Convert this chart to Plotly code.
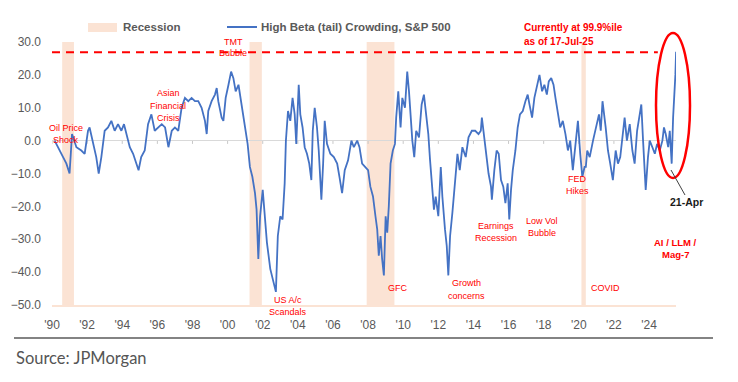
import plotly.graph_objects as go

# ---------------- data ----------------
dates = [
    1990.15, 1990.34, 1990.63, 1990.82, 1991.00, 1991.14, 1991.39, 1991.67, 1991.86, 1992.05,
    1992.14, 1992.33, 1992.52, 1992.66, 1992.81, 1993.00, 1993.19, 1993.38, 1993.57, 1993.76,
    1993.95, 1994.10, 1994.24, 1994.43, 1994.62, 1994.75, 1994.93, 1995.08, 1995.28, 1995.47,
    1995.66, 1995.85, 1996.06, 1996.25, 1996.44, 1996.63, 1996.82, 1997.00, 1997.19, 1997.38,
    1997.57, 1997.76, 1997.95, 1998.14, 1998.33, 1998.52, 1998.71, 1998.81, 1998.90, 1999.09,
    1999.28, 1999.38, 1999.47, 1999.66, 1999.76, 1999.89, 2000.05, 2000.20, 2000.33, 2000.46,
    2000.62, 2000.71, 2000.85, 2001.00, 2001.14, 2001.27, 2001.41, 2001.56, 2001.65, 2001.75,
    2001.85, 2002.00, 2002.14, 2002.24, 2002.43, 2002.62, 2002.75, 2002.86, 2003.00, 2003.13,
    2003.25, 2003.32, 2003.44, 2003.57, 2003.70, 2003.82, 2003.91, 2004.05, 2004.14, 2004.27,
    2004.39, 2004.52, 2004.65, 2004.77, 2004.85, 2004.96, 2005.09, 2005.19, 2005.34, 2005.44,
    2005.53, 2005.66, 2005.85, 2006.05, 2006.24, 2006.37, 2006.52, 2006.67, 2006.86, 2007.05,
    2007.19, 2007.38, 2007.51, 2007.66, 2007.85, 2008.00, 2008.13, 2008.28, 2008.42, 2008.52,
    2008.61, 2008.71, 2008.80, 2008.90, 2009.00, 2009.09, 2009.18, 2009.28, 2009.41, 2009.53,
    2009.60, 2009.72, 2009.85, 2009.95, 2010.10, 2010.23, 2010.33, 2010.42, 2010.52, 2010.63,
    2010.74, 2010.90, 2011.05, 2011.18, 2011.32, 2011.43, 2011.53, 2011.66, 2011.75, 2011.85,
    2012.00, 2012.14, 2012.23, 2012.38, 2012.48, 2012.57, 2012.67, 2012.80, 2012.95, 2013.09,
    2013.22, 2013.37, 2013.56, 2013.72, 2013.91, 2014.10, 2014.29, 2014.42, 2014.48, 2014.62,
    2014.75, 2014.86, 2015.00, 2015.05, 2015.19, 2015.32, 2015.44, 2015.57, 2015.70, 2015.82,
    2015.95, 2016.04, 2016.14, 2016.24, 2016.39, 2016.52, 2016.65, 2016.81, 2016.96, 2017.09,
    2017.19, 2017.34, 2017.47, 2017.61, 2017.76, 2017.91, 2018.04, 2018.18, 2018.29, 2018.43,
    2018.56, 2018.67, 2018.81, 2018.94, 2019.09, 2019.24, 2019.38, 2019.51, 2019.66, 2019.82,
    2019.95, 2020.08, 2020.20, 2020.33, 2020.40, 2020.48, 2020.62, 2020.81, 2021.00, 2021.15,
    2021.25, 2021.35, 2021.53, 2021.66, 2021.79, 2021.94, 2022.10, 2022.23, 2022.36, 2022.52,
    2022.61, 2022.74, 2022.90, 2023.05, 2023.18, 2023.32, 2023.47, 2023.56, 2023.66, 2023.81,
    2023.94, 2024.04, 2024.19, 2024.33, 2024.46, 2024.61, 2024.76, 2024.85, 2024.95, 2025.09,
    2025.18, 2025.29, 2025.37, 2025.42, 2025.47, 2025.50, 2025.54,
]
crowding = [
    0, -2, -5, -7, -10, 2, -2, -3, -4, 3,
    4, -1, -5, -10, -5, 3, 4, 6, 3, 5,
    3, 5, 2, -2, -4, -6, -9, -5, -3, 5,
    8, 3, 4, 5, 4, -2, 3, 4, 3, 10,
    13, 12, 13, 12, 12, 10, 6, 2, 9, 12,
    14, 16, 12, 7, 6, 13, 17, 21, 19, 15,
    17, 14, 10, 5, -1, -8, -11, -16, -21, -36,
    -23, -15, -24, -31, -39, -43, -46, -29, -23, -24,
    -13, 0, 9, 6, 13, 8, -1, 17, 8, 4,
    -2, -4, -7, -12, 3, 10, 4, -3, -18, -7,
    6, -1, -4, -5, -7, -11, -16, -9, -6, 0,
    -2, 0, -2, -7, -8, -9, -14, -17, -23, -27,
    -35, -29, -36, -41, -23, -28, -20, -7, -3, -1,
    7, 15, 4, 13, 10, 21, 15, 7, 0, -5,
    3, 1, 11, 14, 7, 2, -6, -14, -21, -17,
    -23, -8, -17, -27, -32, -41, -29, -22, -13, -4,
    -9, -2, -5, 1, 3, 3, 2, 3, 7, 0,
    -6, -10, -14, -18, -9, -3, -4, -12, -14, -19,
    -13, -24, -15, -9, -3, 4, 8, 9, 12, 14,
    11, 7, 13, 16, 20, 15, 17, 14, 18, 19,
    17, 13, 8, 4, 6, 2, -3, 0, -9, -1,
    6, -4, -11, -8, -8, -3, -5, 0, 4, 8,
    3, 12, 4, -3, -7, -12, -3, -7, -5, 3,
    7, 0, 5, -3, -7, 3, 8, 11, 0, -15,
    -5, 0, -2, -4, -1, -3, 0, 4, 2, -2,
    3, -7, 7, 12, 13, 20, 27,
]

recession_start = [1990.58, 2001.25, 2007.92, 2020.15]
recession_end = [1991.25, 2001.95, 2009.50, 2020.40]

tick_years = list(range(1990, 2025, 2))
tick_labels = ["'" + str(y)[2:] for y in tick_years]
y_ticks = [-50, -40, -30, -20, -10, 0, 10, 20, 30]
current_level = 26.9
dash_end = 2024.5

# ---------------- styling ----------------
BLUE = "#4472C4"
PEACH = "#FBE3D4"
RED = "#FF0000"
GREY = "#595959"
FONT = "Liberation Sans, Arial, sans-serif"

W, H = 738, 382
L, R, T, B = 52, 676, 42, 305  # plot area in pixels


def px(x):
    return (x - L) / (R - L)


def py(y):
    return (B - y) / (B - T)


fig = go.Figure()
fig.add_trace(go.Scatter(
    x=dates, y=crowding, mode="lines",
    line=dict(color=BLUE, width=1.8),
    showlegend=False, hoverinfo="skip",
))

shapes = []
for s, e in zip(recession_start, recession_end):
    shapes.append(dict(type="rect", xref="x", yref="y", x0=s, x1=e, y0=-50, y1=30,
                       fillcolor=PEACH, line=dict(width=0), layer="below"))
for t in tick_years:
    shapes.append(dict(type="line", xref="x", yref="y", x0=t, x1=t, y0=0, y1=-1.0,
                       line=dict(color="#C8C8C8", width=1), layer="below"))
# current-level dashed line
shapes.append(dict(type="line", xref="x", yref="y", x0=1990, x1=dash_end,
                   y0=current_level, y1=current_level,
                   line=dict(color=RED, width=2, dash="8px,6px")))
# ellipse around the latest move
shapes.append(dict(type="circle", xref="paper", yref="paper",
                   x0=px(656), x1=px(690), y0=py(178), y1=py(33),
                   line=dict(color=RED, width=2.5)))
# pointer to 21-Apr
shapes.append(dict(type="line", xref="paper", yref="paper",
                   x0=px(671), y0=py(170), x1=px(685), y1=py(195),
                   line=dict(color="#404040", width=1)))
# legend keys
shapes.append(dict(type="rect", xref="paper", yref="paper",
                   x0=px(88), x1=px(117), y0=py(32), y1=py(23),
                   fillcolor=PEACH, line=dict(width=0)))
shapes.append(dict(type="line", xref="paper", yref="paper",
                   x0=px(227), x1=px(257), y0=py(27), y1=py(27),
                   line=dict(color=BLUE, width=2)))
# separator line above the source
shapes.append(dict(type="line", xref="paper", yref="paper",
                   x0=px(14), x1=px(713), y0=py(338), y1=py(338),
                   line=dict(color="#5a5a5a", width=1.5)))

ann = []


def text(t, x, y, size=9, color=RED, bold=False, anchor="center", family=FONT):
    ann.append(dict(text=("<b>%s</b>" % t) if bold else t, xref="paper", yref="paper",
                    x=px(x), y=py(y), xanchor=anchor, yanchor="middle", showarrow=False,
                    font=dict(size=size, color=color, family=family)))


text("Recession", 121, 27, size=11.5, color=GREY, bold=True, anchor="left")
text("High Beta (tail) Crowding, S&P 500", 259, 27, size=11.5, color=GREY, bold=True,
     anchor="left")
text("Currently at 99.9%ile", 522, 27, size=10, bold=True, anchor="left")
text("as of 17-Jul-25", 522, 41, size=10, bold=True, anchor="left")

labels = [
    ("Oil Price", 66, 128), ("Shock", 66, 140),
    ("Asian", 168, 93), ("Financial", 168, 106), ("Crisis", 168, 118),
    ("TMT", 233, 42), ("Bubble", 233, 53),
    ("US A/c", 288, 300), ("Scandals", 288, 312),
    ("GFC", 397, 288),
    ("Growth", 466, 283), ("concerns", 466, 296),
    ("Earnings", 496, 226), ("Recession", 496, 238),
    ("Low Vol", 542, 221), ("Bubble", 542, 233),
    ("FED", 577, 179), ("Hikes", 577, 191),
    ("COVID", 605, 288),
]
for t, x, y in labels:
    text(t, x, y)
text("AI / LLM /", 675, 242, size=9.5, bold=True)
text("Mag-7", 675, 254, size=9.5, bold=True)
text("21-Apr", 686, 202, size=10.5, color="#1a1a1a", bold=True)
text("Source: JPMorgan", 14, 358, size=16.5, color="#555555", anchor="left",
     family="Lato, sans-serif")

fig.update_layout(
    width=W, height=H,
    margin=dict(l=L, r=W - R, t=T, b=H - B, pad=0),
    paper_bgcolor="white", plot_bgcolor="white",
    font=dict(family=FONT, color=GREY, size=12),
    shapes=shapes, annotations=ann, showlegend=False,
    xaxis=dict(range=[1990, 1990 + (R - L) / 17.56], tickvals=tick_years, ticktext=tick_labels,
               showgrid=False, zeroline=False, showline=True, linecolor=PEACH, linewidth=2,
               ticks="", tickfont=dict(size=12, color=GREY), ticklabelstandoff=8),
    yaxis=dict(range=[-50, 30], tickvals=y_ticks, tickformat=".1f", showgrid=False,
               zeroline=True, zerolinecolor="#D9D9D9", zerolinewidth=1, showline=False,
               ticks="", tickfont=dict(size=12, color=GREY), ticklabelstandoff=10),
)

fig.write_html("out.html", config={"displayModeBar": False},
               post_script="document.body.style.margin='0';")
